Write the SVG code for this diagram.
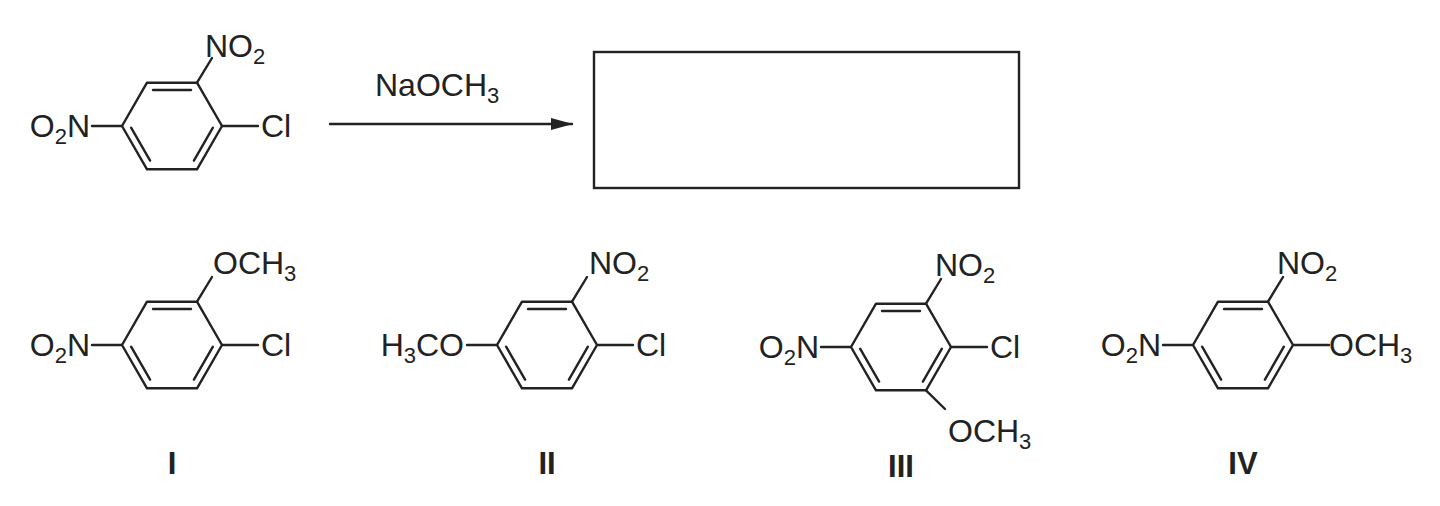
<svg xmlns="http://www.w3.org/2000/svg" width="1440" height="506" viewBox="0 0 1440 506">
<style>
.b{stroke:#222;stroke-width:2.4;fill:none;stroke-linecap:round}
.t{font-family:"Liberation Sans",Arial,sans-serif;font-size:32px;fill:#222}
.e{text-anchor:end}
.s{font-size:22px}
.l{font-family:"Liberation Sans",Arial,sans-serif;font-size:31px;font-weight:bold;fill:#222;text-anchor:middle}
</style>
<defs>
<g id="ring">
<polygon class="b" points="50,0 25,-43.3 -25,-43.3 -50,0 -25,43.3 25,43.3" stroke-linejoin="round"/>
<line class="b" x1="-19" y1="-36" x2="19" y2="-36"/>
<line class="b" x1="40.9" y1="1.7" x2="21.9" y2="34.6"/>
<line class="b" x1="-40.9" y1="1.7" x2="-21.9" y2="34.6"/>
</g>
<marker id="ah" markerWidth="22" markerHeight="12" refX="21" refY="6" orient="auto" markerUnits="userSpaceOnUse"><path d="M0,0 L22,6 L0,12 z" fill="#222"/></marker>
</defs>
<g id="reactant" transform="translate(172,126)">
<use href="#ring"/>
<line class="b" x1="25" y1="-43.3" x2="40" y2="-68"/>
<line class="b" x1="50" y1="0" x2="86" y2="0"/>
<line class="b" x1="-50" y1="0" x2="-80" y2="0"/>
<text class="t" x="33" y="-69">NO<tspan class="s" dy="7">2</tspan></text>
<text class="t" x="89" y="11">Cl</text>
<text class="t e" x="-82" y="11">O<tspan class="s" dy="7">2</tspan><tspan dy="-7">N</tspan></text>
</g>
<g id="connectors">
<line class="b" x1="330" y1="124" x2="572" y2="124" stroke-width="2.2" marker-end="url(#ah)"/>
</g>
<text class="t" x="375" y="96">NaOCH<tspan class="s" dy="7">3</tspan></text>
<rect id="answer-box" x="594" y="52" width="425" height="136" fill="none" stroke="#222" stroke-width="2.4"/>
<g id="I" transform="translate(172,345)">
<use href="#ring"/>
<line class="b" x1="25" y1="-43.3" x2="40" y2="-68"/>
<line class="b" x1="50" y1="0" x2="86" y2="0"/>
<line class="b" x1="-50" y1="0" x2="-80" y2="0"/>
<text class="t" x="41" y="-71">OCH<tspan class="s" dy="7">3</tspan></text>
<text class="t" x="89" y="11">Cl</text>
<text class="t e" x="-82" y="11">O<tspan class="s" dy="7">2</tspan><tspan dy="-7">N</tspan></text>
<text class="l" x="0" y="129">I</text>
</g>
<g id="II" transform="translate(547,345)">
<use href="#ring"/>
<line class="b" x1="25" y1="-43.3" x2="40" y2="-68"/>
<line class="b" x1="50" y1="0" x2="86" y2="0"/>
<line class="b" x1="-50" y1="0" x2="-80" y2="0"/>
<text class="t" x="42" y="-71">NO<tspan class="s" dy="7">2</tspan></text>
<text class="t" x="89" y="11">Cl</text>
<text class="t e" x="-83" y="11">H<tspan class="s" dy="7">3</tspan><tspan dy="-7">CO</tspan></text>
<text class="l" x="0" y="129">II</text>
</g>
<g id="III" transform="translate(901,347)">
<use href="#ring"/>
<line class="b" x1="25" y1="-43.3" x2="40" y2="-68"/>
<line class="b" x1="25" y1="43.3" x2="44" y2="62"/>
<line class="b" x1="50" y1="0" x2="86" y2="0"/>
<line class="b" x1="-50" y1="0" x2="-80" y2="0"/>
<text class="t" x="34" y="-71">NO<tspan class="s" dy="7">2</tspan></text>
<text class="t" x="89" y="11">Cl</text>
<text class="t" x="47" y="95">OCH<tspan class="s" dy="7">3</tspan></text>
<text class="t e" x="-82" y="11">O<tspan class="s" dy="7">2</tspan><tspan dy="-7">N</tspan></text>
<text class="l" x="0" y="130">III</text>
</g>
<g id="IV" transform="translate(1243,345)">
<use href="#ring"/>
<line class="b" x1="25" y1="-43.3" x2="40" y2="-68"/>
<line class="b" x1="50" y1="0" x2="86" y2="0"/>
<line class="b" x1="-50" y1="0" x2="-80" y2="0"/>
<text class="t" x="34" y="-71">NO<tspan class="s" dy="7">2</tspan></text>
<text class="t" x="86" y="11">OCH<tspan class="s" dy="7">3</tspan></text>
<text class="t e" x="-82" y="11">O<tspan class="s" dy="7">2</tspan><tspan dy="-7">N</tspan></text>
<text class="l" x="0" y="129">IV</text>
</g>
</svg>
